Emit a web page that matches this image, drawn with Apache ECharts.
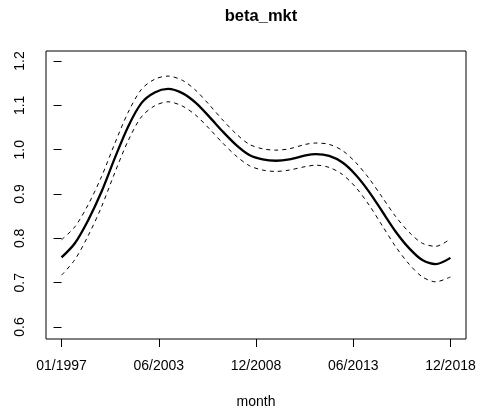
<!DOCTYPE html>
<html>
<head>
<meta charset="utf-8">
<script src="https://cdn.jsdelivr.net/npm/echarts@6/dist/echarts.min.js"></script>
<style>
  html, body { margin: 0; padding: 0; background: #fff; }
  #chart { width: 479px; height: 414px; }
</style>
</head>
<body>
<div id="chart"></div>
<script>
// month index since 01/1997
const monthIdx = [0, 9, 18, 27, 36, 45, 54, 63, 72, 82, 91, 100, 109, 118, 127,
  136, 145, 154, 165, 172, 181, 190, 199, 208, 217, 226, 235, 244, 253, 263]
const beta = [0.757, 0.789, 0.841, 0.905, 0.981, 1.052, 1.105, 1.129, 1.137, 1.127,
  1.105, 1.074, 1.041, 1.011, 0.988, 0.978, 0.975, 0.978, 0.987, 0.990,
  0.986, 0.971, 0.943, 0.905, 0.860, 0.815, 0.778, 0.751, 0.742, 0.756]
const upper = [0.797, 0.826, 0.876, 0.939, 1.014, 1.084, 1.136, 1.159, 1.166, 1.156,
  1.133, 1.101, 1.067, 1.036, 1.012, 1.002, 0.999, 1.002, 1.012, 1.015,
  1.012, 0.998, 0.971, 0.935, 0.892, 0.849, 0.814, 0.789, 0.782, 0.799]
const lower = [0.717, 0.752, 0.806, 0.871, 0.948, 1.020, 1.074, 1.099, 1.108, 1.098,
  1.077, 1.047, 1.015, 0.986, 0.964, 0.954, 0.951, 0.954, 0.962, 0.965,
  0.960, 0.944, 0.915, 0.875, 0.828, 0.781, 0.742, 0.713, 0.702, 0.713]

const xTicks = [0, 65.75, 131.5, 197.25, 263]
const xLabels = ['01/1997', '06/2003', '12/2008', '06/2013', '12/2018']
const yTicks = [0.6, 0.7, 0.8, 0.9, 1.0, 1.1, 1.2]

const pairs = (ys) => monthIdx.map((m, i) => [m, ys[i]])
const font = 'Liberation Sans, Arial, Helvetica, sans-serif'

const chart = echarts.init(document.getElementById('chart'))
const option = {
  animation: false,
  backgroundColor: '#fff',
  title: {
    text: 'beta_mkt',
    left: 256,
    textAlign: 'center',
    top: 3,
    textStyle: { fontFamily: font, fontWeight: 'bold', fontSize: 16.5, color: '#000' }
  },
  grid: {
    left: 46, right: 13, top: 51, bottom: 75,
    outerBoundsMode: 'none',
    containLabel: false,
    show: true, borderColor: '#000', borderWidth: 1
  },
  xAxis: {
    type: 'value',
    min: -10.52,
    max: 273.52,
    name: 'month',
    nameLocation: 'middle',
    nameGap: 56,
    nameTextStyle: { fontFamily: font, fontSize: 14, color: '#000' },
    splitLine: { show: false },
    axisLine: { show: false },
    axisTick: {
      show: true, inside: false, length: 8,
      customValues: xTicks,
      lineStyle: { color: '#000', width: 1 }
    },
    axisLabel: {
      customValues: xTicks,
      margin: 20,
      fontFamily: font, fontSize: 14, color: '#000',
      formatter: (v) => {
        const i = xTicks.findIndex(t => Math.abs(t - v) < 1e-6)
        return i >= 0 ? xLabels[i] : ''
      }
    }
  },
  yAxis: {
    type: 'value',
    min: 0.573,
    max: 1.2226,
    splitLine: { show: false },
    axisLine: { show: false },
    axisTick: {
      show: true, inside: false, length: 8,
      customValues: yTicks,
      lineStyle: { color: '#000', width: 1 }
    },
    axisLabel: {
      customValues: yTicks,
      rotate: 90,
      margin: 19,
      fontFamily: font, fontSize: 14, color: '#000',
      formatter: (v) => v.toFixed(1)
    }
  },
  series: [
    {
      type: 'line', data: pairs(beta), smooth: 0.3, symbol: 'none',
      lineStyle: { color: '#000', width: 2.3 }
    },
    {
      type: 'line', data: pairs(upper), smooth: 0.3, symbol: 'none',
      lineStyle: { color: '#000', width: 1, type: [4, 4] }
    },
    {
      type: 'line', data: pairs(lower), smooth: 0.3, symbol: 'none',
      lineStyle: { color: '#000', width: 1, type: [4, 4] }
    }
  ]
}
chart.setOption(option)
</script>
</body>
</html>
